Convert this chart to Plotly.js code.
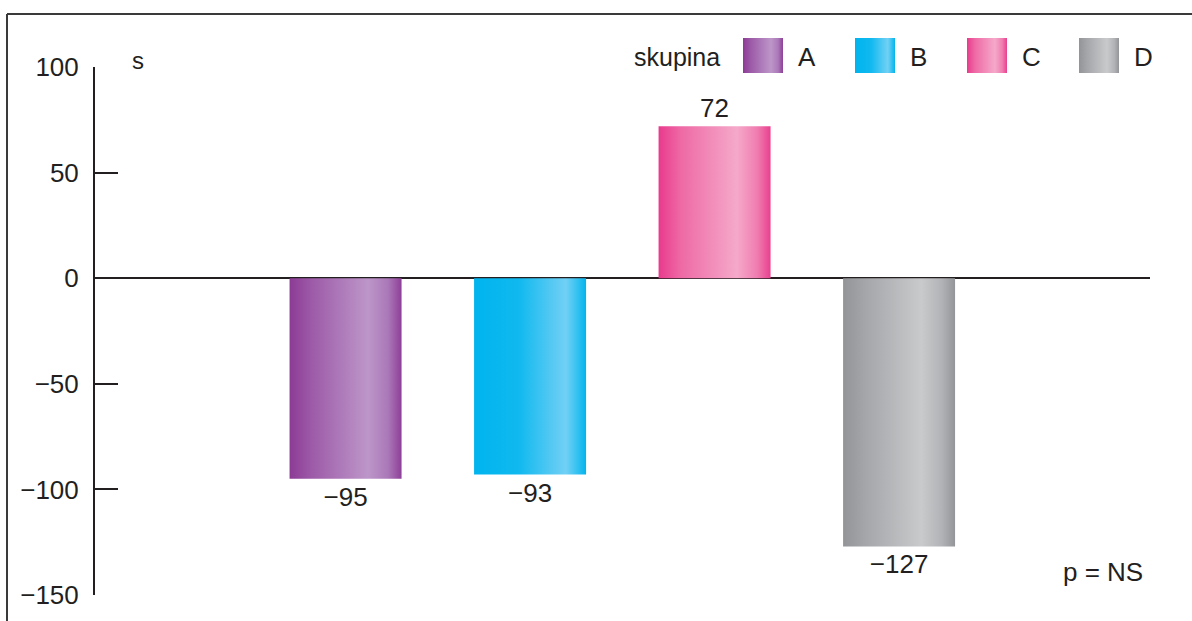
<!DOCTYPE html>
<html>
<head>
<meta charset="utf-8">
<script src="https://cdn.plot.ly/plotly-3.0.1.min.js"></script>
<style>
html,body{margin:0;padding:0;background:#fff;}
#chart{width:1192px;height:621px;}
</style>
</head>
<body>
<div id="chart"></div>
<script>
// ---- data ----
var groups = ['A', 'B', 'C', 'D'];
var values = [-95, -93, 72, -127];
var legendTitle = 'skupina';
var yUnit = 's';
var pNote = 'p = NS';
var yTicks = [-150, -100, -50, 0, 50, 100];

// ---- styles ----
var gradients = {
  A: [[0, '#8c3b95'], [0.2, '#9d5ba8'], [0.7, '#bd96c9'], [0.88, '#aa78b8'], [1, '#8e3f98']],
  B: [[0, '#00b4ee'], [0.4, '#10b9ef'], [0.82, '#72d0f5'], [0.93, '#2fc0f0'], [1, '#00b4ee']],
  C: [[0, '#e93a8d'], [0.2, '#ee6aa5'], [0.7, '#f5a9ca'], [0.88, '#f07db0'], [1, '#e9408f']],
  D: [[0, '#929497'], [0.2, '#a4a6a9'], [0.7, '#c9cacc'], [0.88, '#b2b3b6'], [1, '#939598']]
};
var baseColors = ['#a86fb3', '#33c2f0', '#f07fb2', '#b0b2b4'];
var FONT = 'Liberation Sans, Arial, sans-serif';
var TXT = '#231f20';
var FS = 26;

var W = 1192, H = 621;
var L = 95, R = 1150, T = 67, B = 595;
function px(x) { return (x - L) / (R - L); }
function py(y) { return (B - y) / (B - T); }

var xpos = groups.map(function (g, i) { return i; });
var labels = values.map(function (v) { return (v < 0 ? '\u2212' : '') + Math.abs(v); });

var trace = {
  type: 'bar',
  x: xpos,
  y: values,
  width: 0.607,
  marker: { color: baseColors, line: { width: 0 } },
  text: labels,
  textposition: 'outside',
  textfont: { family: FONT, size: FS, color: TXT },
  cliponaxis: false,
  hoverinfo: 'skip',
  showlegend: false
};

var shapes = [];
var annotations = [];

// frame (top and left)
shapes.push({ type: 'line', xref: 'paper', yref: 'paper', x0: px(7), x1: px(7), y0: py(625), y1: py(14), line: { color: '#3a3a3a', width: 2 } });
shapes.push({ type: 'line', xref: 'paper', yref: 'paper', x0: px(7), x1: px(1195), y0: py(14), y1: py(14), line: { color: '#3a3a3a', width: 2 } });
var swatchStart = shapes.length;

// legend
annotations.push({ xref: 'paper', yref: 'paper', x: px(722), y: py(57), xanchor: 'right', yanchor: 'middle', text: legendTitle, showarrow: false, font: { family: FONT, size: FS - 1, color: TXT } });
var swX = [743, 855, 967, 1079];
groups.forEach(function (g, i) {
  shapes.push({ type: 'rect', xref: 'paper', yref: 'paper', x0: px(swX[i]), x1: px(swX[i] + 40), y0: py(73), y1: py(38), fillcolor: baseColors[i], line: { width: 0 } });
  annotations.push({ xref: 'paper', yref: 'paper', x: px(swX[i] + 53), y: py(57), xanchor: 'left', yanchor: 'middle', text: g, showarrow: false, font: { family: FONT, size: FS, color: TXT } });
});

// y unit and p note
annotations.push({ xref: 'paper', yref: 'paper', x: px(130), y: py(60), xanchor: 'left', yanchor: 'middle', text: yUnit, showarrow: false, font: { family: FONT, size: FS - 2, color: TXT } });
annotations.push({ xref: 'paper', yref: 'paper', x: px(1061), y: py(572), xanchor: 'left', yanchor: 'middle', text: pNote, showarrow: false, font: { family: FONT, size: FS, color: TXT } });

var layout = {
  width: W, height: H,
  margin: { l: L, r: W - R, t: T, b: H - B, pad: 0 },
  paper_bgcolor: '#fff', plot_bgcolor: 'rgba(0,0,0,0)',
  showlegend: false,
  xaxis: {
    range: [-1.358, 4.36], showgrid: false, zeroline: false, showline: false,
    showticklabels: false, ticks: '', fixedrange: true
  },
  yaxis: {
    range: [-150, 100], tickvals: yTicks,
    ticktext: yTicks.map(function (v) { return (v < 0 ? '\u2212' : '') + Math.abs(v); }),
    ticks: 'inside', ticklen: 23, tickwidth: 2, tickcolor: '#231f20',
    showline: true, linecolor: '#231f20', linewidth: 2,
    showgrid: false, zeroline: true, zerolinecolor: '#231f20', zerolinewidth: 1.5,
    ticklabelstandoff: 9,
    tickfont: { family: FONT, size: FS, color: TXT }, fixedrange: true
  },
  shapes: shapes,
  annotations: annotations,
  font: { family: FONT, color: TXT }
};

function addGradients(gd) {
  var svg = gd.querySelector('svg.main-svg');
  if (!svg) return;
  var ns = 'http://www.w3.org/2000/svg';
  var defs = svg.querySelector('defs');
  if (!defs) { defs = document.createElementNS(ns, 'defs'); svg.insertBefore(defs, svg.firstChild); }
  groups.forEach(function (g) {
    var lg = document.createElementNS(ns, 'linearGradient');
    lg.setAttribute('id', 'grad' + g);
    lg.setAttribute('x1', '0'); lg.setAttribute('x2', '1');
    lg.setAttribute('y1', '0'); lg.setAttribute('y2', '0');
    gradients[g].forEach(function (s) {
      var st = document.createElementNS(ns, 'stop');
      st.setAttribute('offset', s[0]);
      st.setAttribute('stop-color', s[1]);
      lg.appendChild(st);
    });
    defs.appendChild(lg);
  });
  var bars = gd.querySelectorAll('.barlayer .point path');
  bars.forEach(function (p, i) { p.style.fill = 'url(#grad' + groups[i] + ')'; });
  groups.forEach(function (g, i) {
    var p = gd.querySelector('.shapelayer path[data-index="' + (swatchStart + i) + '"]');
    if (p) { p.style.fill = 'url(#grad' + g + ')'; p.style.fillOpacity = 1; }
  });
}

Plotly.newPlot('chart', [trace], layout, { staticPlot: true, displayModeBar: false }).then(addGradients);
</script>
</body>
</html>
